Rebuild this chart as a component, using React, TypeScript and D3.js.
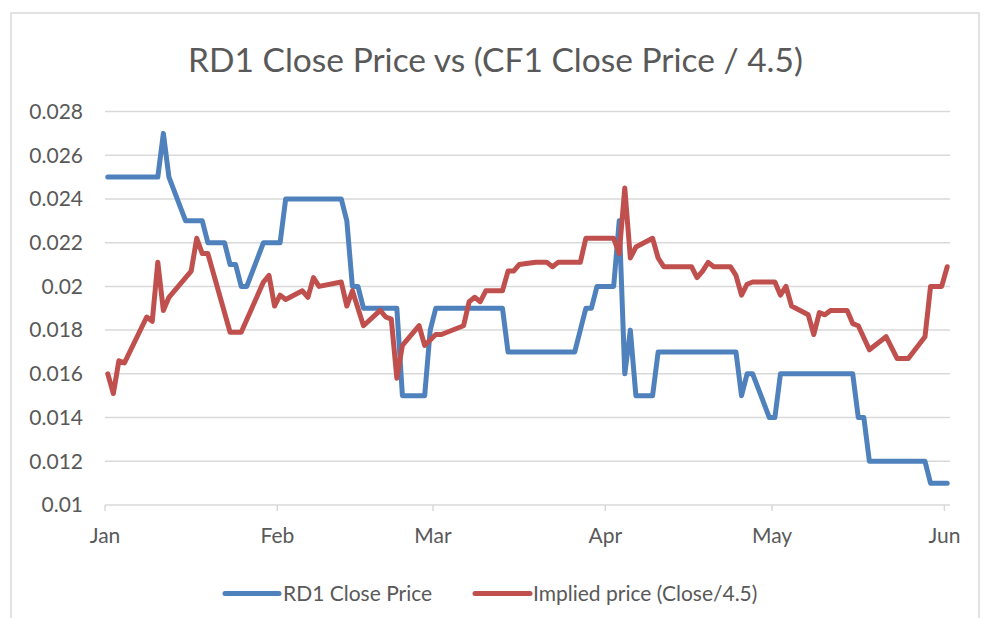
import React from "react"
import * as d3 from "d3"

const YEAR = 2019

// RD1 close price
const rd1Dates = [
  "01-01", "01-10", "01-11", "01-12", "01-15", "01-18", "01-19", "01-22", "01-23", "01-24",
  "01-25", "01-26", "01-29", "02-01", "02-02", "02-12", "02-13", "02-14", "02-15", "02-16",
  "02-22", "02-23", "02-27", "02-28", "03-01", "03-13", "03-14", "03-26", "03-28", "03-29",
  "03-30", "04-02", "04-03", "04-04", "04-05", "04-06", "04-09", "04-10", "04-24", "04-25",
  "04-26", "04-27", "04-30", "05-01", "05-02", "05-15", "05-16", "05-17", "05-18", "05-28",
  "05-29", "06-01",
]
const rd1Values = [
  0.025, 0.025, 0.027, 0.025, 0.023, 0.023, 0.022, 0.022, 0.021, 0.021,
  0.02, 0.02, 0.022, 0.022, 0.024, 0.024, 0.023, 0.02, 0.02, 0.019,
  0.019, 0.015, 0.015, 0.018, 0.019, 0.019, 0.017, 0.017, 0.019, 0.019,
  0.02, 0.02, 0.023, 0.016, 0.018, 0.015, 0.015, 0.017, 0.017, 0.015,
  0.016, 0.016, 0.014, 0.014, 0.016, 0.016, 0.014, 0.014, 0.012, 0.012,
  0.011, 0.011,
]

// CF1 close / 4.5
const impliedDates = [
  "01-01", "01-02", "01-03", "01-04", "01-08", "01-09", "01-10", "01-11", "01-12", "01-16",
  "01-17", "01-18", "01-19", "01-23", "01-25", "01-29", "01-30", "01-31", "02-01", "02-02",
  "02-05", "02-06", "02-07", "02-08", "02-12", "02-13", "02-14", "02-16", "02-19", "02-20",
  "02-21", "02-22", "02-23", "02-26", "02-27", "03-01", "03-02", "03-06", "03-07", "03-08",
  "03-09", "03-10", "03-13", "03-14", "03-15", "03-16", "03-19", "03-21", "03-22", "03-23",
  "03-27", "03-28", "04-02", "04-03", "04-04", "04-05", "04-06", "04-09", "04-10", "04-11",
  "04-16", "04-17", "04-18", "04-19", "04-20", "04-23", "04-24", "04-25", "04-26", "04-27",
  "05-01", "05-02", "05-03", "05-04", "05-07", "05-08", "05-09", "05-10", "05-11", "05-14",
  "05-15", "05-16", "05-18", "05-21", "05-23", "05-25", "05-28", "05-29", "05-31", "06-01",
]
const impliedValues = [
  0.016, 0.0151, 0.0166, 0.0165, 0.0186, 0.0184, 0.0211, 0.0189, 0.0195, 0.0207,
  0.0222, 0.0215, 0.0215, 0.0179, 0.0179, 0.0202, 0.0205, 0.0191, 0.0196, 0.0194,
  0.0198, 0.0195, 0.0204, 0.02, 0.0202, 0.0191, 0.0198, 0.0182, 0.0189, 0.0186,
  0.0185, 0.0158, 0.0173, 0.0182, 0.0173, 0.0178, 0.0178, 0.0182, 0.0193, 0.0195,
  0.0193, 0.0198, 0.0198, 0.0207, 0.0207, 0.021, 0.0211, 0.0211, 0.0209, 0.0211,
  0.0211, 0.0222, 0.0222, 0.0215, 0.0245, 0.0213, 0.0218, 0.0222, 0.0213, 0.0209,
  0.0209, 0.0204, 0.0207, 0.0211, 0.0209, 0.0209, 0.0205, 0.0196, 0.0201, 0.0202,
  0.0202, 0.0196, 0.02, 0.0191, 0.0187, 0.0178, 0.0188, 0.0187, 0.0189, 0.0189,
  0.0183, 0.0182, 0.0171, 0.0177, 0.0167, 0.0167, 0.0177, 0.02, 0.02, 0.0209,
]

const yTicks = [0.01, 0.012, 0.014, 0.016, 0.018, 0.02, 0.022, 0.024, 0.026, 0.028]
const monthLabels = ["Jan", "Feb", "Mar", "Apr", "May", "Jun"]

const title = "RD1 Close Price vs (CF1 Close Price / 4.5)"
const seriesNames = ["RD1 Close Price", "Implied price (Close/4.5)"]
const colors = ["#4f81bd", "#c0504d"]

const toDate = (s: string) => {
  const [m, d] = s.split("-").map(Number)
  return new Date(Date.UTC(YEAR, m - 1, d))
}

const App = () => {
  const width = 985
  const height = 618
  const font = "Lato, 'Open Sans', sans-serif"
  const textColor = "#595959"
  const gridColor = "#d9d9d9"
  const fontSize = 21

  const x = d3
    .scaleUtc()
    .domain([new Date(Date.UTC(YEAR, 0, 1)), new Date(Date.UTC(YEAR, 5, 2))])
    .range([105, 950])
  const y = d3.scaleLinear().domain([0.01, 0.028]).range([505, 111.5])

  // points sit in the middle of their day slot
  const px = (d: Date) => x(d3.utcHour.offset(d, 12))

  const series = [
    rd1Dates.map((d, i) => [toDate(d), rd1Values[i]] as [Date, number]),
    impliedDates.map((d, i) => [toDate(d), impliedValues[i]] as [Date, number]),
  ]
  const line = d3
    .line<[Date, number]>()
    .x((d) => px(d[0]))
    .y((d) => y(d[1]))

  const months = monthLabels.map((_, i) => new Date(Date.UTC(YEAR, i, 1)))

  return (
    <svg
      width={width}
      height={height}
      style={{ position: "absolute", left: 0, top: 0, background: "#fff" }}
      fontFamily={font}
    >
      <rect x={11} y={13} width={968} height={620} fill="#fff" stroke={gridColor} strokeWidth={1.5} />
      <text x={495.5} y={72} textAnchor="middle" fontSize={33.5} fill={textColor}>
        {title}
      </text>
      {yTicks.map((t) => (
        <g key={t}>
          <line x1={105} x2={950} y1={y(t)} y2={y(t)} stroke={gridColor} strokeWidth={1.5} />
          <text
            x={83}
            y={y(t)}
            dy="0.35em"
            textAnchor="end"
            fontSize={fontSize}
            fill={textColor}
          >
            {String(+t.toFixed(3))}
          </text>
        </g>
      ))}
      {months.map((m, i) => (
        <g key={i}>
          <line x1={x(m)} x2={x(m)} y1={505} y2={511} stroke={gridColor} strokeWidth={1.5} />
          <text x={x(m)} y={543} textAnchor="middle" fontSize={fontSize} fill={textColor}>
            {monthLabels[i]}
          </text>
        </g>
      ))}
      {series.map((s, i) => (
        <path
          key={i}
          d={line(s) || ""}
          fill="none"
          stroke={colors[i]}
          strokeWidth={5}
          strokeLinejoin="round"
          strokeLinecap="round"
        />
      ))}
      {[
        [225, 279, 283],
        [475, 530, 533],
      ].map(([x1, x2, tx], i) => (
        <g key={i}>
          <line x1={x1} x2={x2} y1={593.5} y2={593.5} stroke={colors[i]} strokeWidth={5} strokeLinecap="round" />
          <text x={tx} y={593.5} dy="0.35em" fontSize={fontSize} fill={textColor}>
            {seriesNames[i]}
          </text>
        </g>
      ))}
    </svg>
  )
}

export default App
